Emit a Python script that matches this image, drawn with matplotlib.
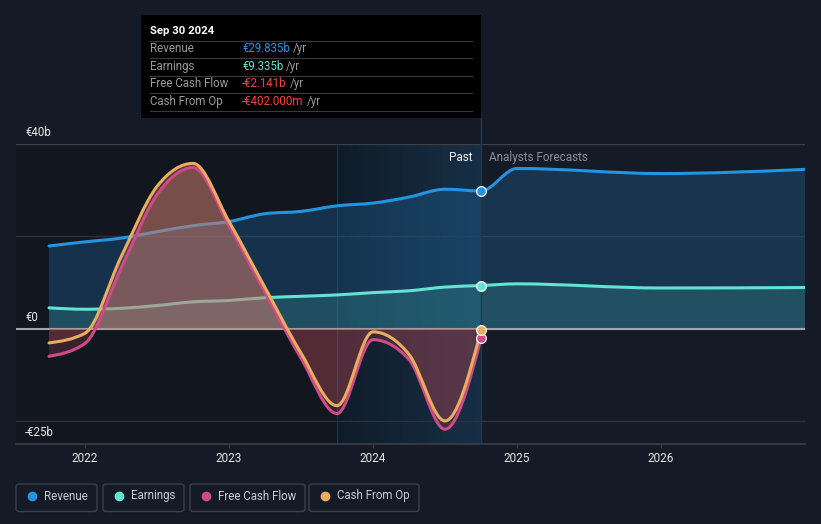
import numpy as np
import matplotlib
matplotlib.use("Agg")
import matplotlib.pyplot as plt
from matplotlib.path import Path
from matplotlib.patches import PathPatch, Rectangle, FancyBboxPatch

plt.rcParams['font.family'] = ['Roboto', 'DejaVu Sans']

# quarterly history (decimal year) + annual analyst forecasts, values in EUR bn
past_x = [2021.75, 2022.0, 2022.25, 2022.5, 2022.75, 2023.0, 2023.25,
          2023.5, 2023.75, 2024.0, 2024.25, 2024.5, 2024.75]
fcst_x = [2025.0, 2026.0, 2027.0]

revenue_past = [17.9, 18.8, 19.6, 21.0, 22.3, 23.2, 24.9, 25.4, 26.6, 27.2, 28.5, 30.2, 29.835]
revenue_fcst = [34.7, 33.6, 34.5]
earnings_past = [4.5, 4.2, 4.4, 5.0, 5.8, 6.1, 6.7, 7.0, 7.3, 7.8, 8.2, 9.0, 9.335]
earnings_fcst = [9.7, 8.8, 8.9]
fcf_past = [-6.0, -3.2, 13.0, 29.0, 34.9, 22.3, 7.8, -6.4, -18.4, -2.4, -6.7, -21.8, -2.141]
cfo_past = [-3.1, -1.0, 15.5, 30.8, 35.8, 23.2, 8.9, -5.3, -16.7, -0.7, -5.6, -20.0, -0.402]

year_ticks = [2022, 2023, 2024, 2025, 2026]
y_labels = {40: "€40b", 0: "€0", -25: "-€25b"}

tooltip_date = "Sep 30 2024"
tooltip_rows = [("Revenue", "€29.835b", "#2394df"),
                ("Earnings", "€9.335b", "#64e3d2"),
                ("Free Cash Flow", "-€2.141b", "#f2483b"),
                ("Cash From Op", "-€402.000m", "#f2483b")]

c_rev = "#2394df"
c_earn = "#64e3d2"
c_fcf = "#cf4a86"
c_cfo = "#e9ad5f"
bg = "#151b26"

W, H = 821, 524


def monotone_path(xs, ys, close_to=None):
    # cubic bezier segments like d3.curveMonotoneX
    xs = np.asarray(xs, float)
    ys = np.asarray(ys, float)
    n = len(xs)
    h = np.diff(xs)
    s = np.diff(ys) / h
    t = np.zeros(n)
    for i in range(1, n - 1):
        p = (s[i - 1] * h[i] + s[i] * h[i - 1]) / (h[i - 1] + h[i])
        t[i] = (np.sign(s[i - 1]) + np.sign(s[i])) * min(abs(s[i - 1]), abs(s[i]), 0.5 * abs(p))
    t[0] = (3 * s[0] - t[1]) / 2
    t[-1] = (3 * s[-1] - t[-2]) / 2
    verts = [(xs[0], ys[0])]
    codes = [Path.MOVETO]
    for i in range(n - 1):
        dx = h[i] / 3
        verts += [(xs[i] + dx, ys[i] + dx * t[i]),
                  (xs[i + 1] - dx, ys[i + 1] - dx * t[i + 1]),
                  (xs[i + 1], ys[i + 1])]
        codes += [Path.CURVE4] * 3
    if close_to is not None:
        verts += [(xs[-1], close_to), (xs[0], close_to), (xs[0], ys[0])]
        codes += [Path.LINETO, Path.LINETO, Path.CLOSEPOLY]
    return Path(verts, codes)


fig = plt.figure(figsize=(W / 100, H / 100), dpi=100, facecolor=bg)
ax = fig.add_axes([16 / W, 80 / H, 789 / W, 300 / H])
ax.set_facecolor(bg)
x0 = 2022 - 69 / 144
ax.set_xlim(x0, 2027.0)
ax.set_ylim(-25, 40)
for sp in ax.spines.values():
    sp.set_visible(False)

# background bands
ax.axvspan(x0, 2023.75, color="#0b0e14", alpha=0.35, lw=0, zorder=0)
grad = np.linspace(0, 1, 256).reshape(1, -1)
ax.imshow(grad, extent=[2023.75, 2024.75, -25, 40], aspect="auto", cmap=matplotlib.colors.LinearSegmentedColormap.from_list(
    "band", ["#101c29", "#17324a"]), alpha=0.9, zorder=0.5)
ax.axvline(2023.75, color="#1d3347", lw=0.8, zorder=0.6)

for g in [20, -20]:
    ax.axhline(g, color="#2b3039", lw=1, zorder=1)
ax.axhline(40, color="#3a3f48", lw=1, zorder=1)
ax.axhline(-25, color="#3a3f48", lw=1.2, zorder=1, clip_on=False)

all_x = past_x + fcst_x
rev = revenue_past + revenue_fcst
earn = earnings_past + earnings_fcst

# fills
ax.add_patch(PathPatch(monotone_path(all_x, rev, 0), fc="#1f6aa5", alpha=0.33, lw=0, zorder=2))
ax.add_patch(PathPatch(monotone_path(all_x, earn, 0), fc="#3a9c98", alpha=0.28, lw=0, zorder=2.1))

ax.axhline(0, color="#a3a6ab", lw=1.5, zorder=3)

ax.add_patch(PathPatch(monotone_path(all_x, rev), fc="none", ec=c_rev, lw=2.2, zorder=4, capstyle="round"))
ax.add_patch(PathPatch(monotone_path(all_x, earn), fc="none", ec=c_earn, lw=2.2, zorder=4, capstyle="round"))

# cash flow fills sit above revenue / earnings lines
top_clip = Rectangle((x0, 0), 6, 40, transform=ax.transData)
bot_clip = Rectangle((x0, -25), 6, 25, transform=ax.transData)
for ys in [fcf_past, cfo_past]:
    up = PathPatch(monotone_path(past_x, ys, 0), fc="#c97a6c", alpha=0.34, lw=0, zorder=4.1)
    ax.add_patch(up)
    up.set_clip_path(top_clip)
    dn = PathPatch(monotone_path(past_x, ys, 0), fc="#93414f", alpha=0.3, lw=0, zorder=4.1)
    ax.add_patch(dn)
    dn.set_clip_path(bot_clip)

ax.add_patch(PathPatch(monotone_path(past_x, fcf_past), fc="none", ec=c_fcf, lw=2.2, zorder=4.5, capstyle="round"))
ax.add_patch(PathPatch(monotone_path(past_x, cfo_past), fc="none", ec=c_cfo, lw=2.2, zorder=4.6, capstyle="round"))

# hover line and markers
ax.plot([2024.75, 2024.75], [-25, 40], color="#24364a", lw=1, zorder=3.5)
for val, col in [(revenue_past[-1], c_rev), (earnings_past[-1], c_earn),
                 (fcf_past[-1], c_fcf), (cfo_past[-1], c_cfo)]:
    ax.plot(2024.75, val, "o", ms=7, mfc=col, mec="white", mew=0.9, zorder=6)

# x ticks
ax.set_xticks(year_ticks)
ax.set_xticklabels([str(y) for y in year_ticks], color="#e6e6e6", fontsize=8.5)
ax.tick_params(axis="x", length=3, color="#3a3f48", pad=3)
ax.set_yticks([])

# y labels
for v, lab in y_labels.items():
    ax.text(x0 + 9 / 144, v + 1.0, lab, color="#e6e6e6", fontsize=8.3, va="bottom", ha="left", zorder=7)

ax.text(2024.75 - 8 / 144, 38.5, "Past", color="#f0f0f0", fontsize=8.5, ha="right", va="top", zorder=7)
ax.text(2024.75 + 8 / 144, 38.5, "Analysts Forecasts", color="#8a8f98", fontsize=8.5, ha="left", va="top", zorder=7)


def fx(x):
    return x / W


def fy(y):
    return 1 - y / H


# hover line above axes
fig.add_artist(plt.Line2D([fx(481), fx(481)], [fy(118), fy(144)], color="#24364a", lw=1))

# tooltip
fig.add_artist(Rectangle((fx(141), fy(118)), fx(340), 103 / H, transform=fig.transFigure, fc="black", ec="none"))
fig.text(fx(150), fy(31), tooltip_date, color="white", fontsize=8.2, fontweight="bold", va="center")
for yy in [41, 58, 76, 93, 111]:
    fig.add_artist(plt.Line2D([fx(150), fx(472)], [fy(yy), fy(yy)], color="#3a3a3a", lw=0.8))
fig.canvas.draw()
renderer = fig.canvas.get_renderer()
for i, (lab, val, col) in enumerate(tooltip_rows):
    yy = 48.5 + i * 17.6
    fig.text(fx(150), fy(yy), lab, color="#9a9a9a", fontsize=8.3, va="center")
    t = fig.text(fx(242), fy(yy), val, color=col, fontsize=8.3, va="center")
    bb = t.get_window_extent(renderer)
    fig.text(fx(bb.x1 + 3), fy(yy), "/yr", color="#9a9a9a", fontsize=8.3, va="center")

# legend
legend = [("Revenue", c_rev, 16, 97), ("Earnings", c_earn, 103, 184),
          ("Free Cash Flow", c_fcf, 190, 305), ("Cash From Op", c_cfo, 309, 419)]
for lab, col, xl, xr in legend:
    fig.add_artist(FancyBboxPatch((fx(xl), fy(511.5)), fx(xr - xl), 27.5 / H,
                                  boxstyle="round,pad=0,rounding_size=0.004", transform=fig.transFigure,
                                  fc="none", ec="#3a3f4a", lw=1))
    fig.add_artist(plt.Line2D([fx(xl + 16)], [fy(496)], marker="o", ms=6, color=col, mec=col))
    fig.text(fx(xl + 28), fy(496), lab, color="#c8cdd4", fontsize=8.3, va="center")

fig.savefig("out.png", dpi=100, facecolor=bg)
